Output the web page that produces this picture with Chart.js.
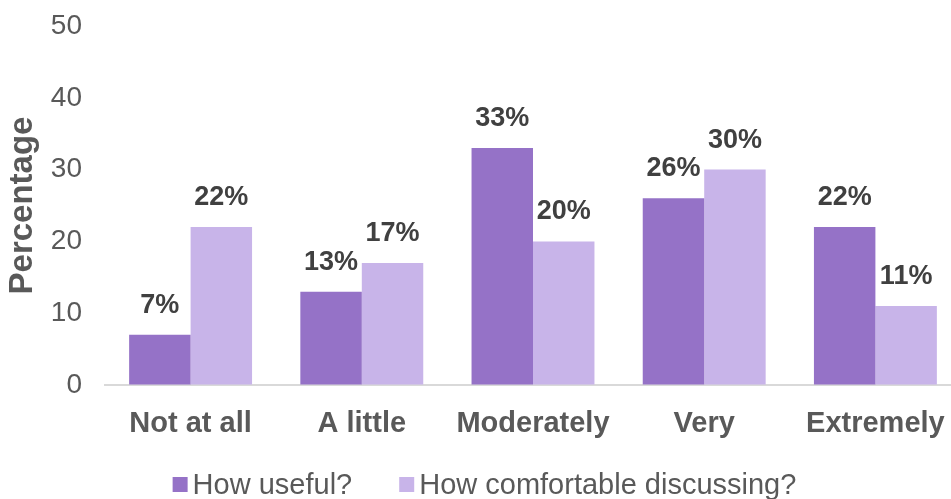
<!DOCTYPE html>
<html>
<head>
<meta charset="utf-8">
<script src="https://cdn.jsdelivr.net/npm/chart.js@4/dist/chart.umd.min.js"></script>
<style>
  html, body { margin: 0; padding: 0; background: #fff; }
  /* the canvas is a bit wider than the frame; the last category runs off the edge */
  #wrap { width: 951px; height: 499px; overflow: hidden; }
</style>
</head>
<body>
<div id="wrap"><canvas id="answersChart" width="961" height="499"></canvas></div>
<script>
// Answers per category, in percent
const categories = ['Not at all', 'A little', 'Moderately', 'Very', 'Extremely'];
const usefulValues = [7, 13, 33, 26, 22];
const comfortableValues = [22, 17, 20, 30, 11];
const yTicks = [0, 10, 20, 30, 40, 50];

const FONT = '"Liberation Sans", Arial, Helvetica, sans-serif';
const VISIBLE_WIDTH = 951;

// Writes "NN%" above each bar
const barLabels = {
    id: 'barLabels',
    afterDatasetsDraw(chart) {
        const ctx = chart.ctx;
        ctx.save();
        ctx.font = 'bold 27px ' + FONT;
        ctx.fillStyle = '#404040';
        ctx.textAlign = 'center';
        ctx.textBaseline = 'alphabetic';
        chart.data.datasets.forEach((ds, i) => {
            chart.getDatasetMeta(i).data.forEach((bar, j) => {
                ctx.fillText(ds.data[j] + '%', bar.x, bar.y - 22);
            });
        });
        ctx.restore();
    }
};

// Legend row at the bottom: small square, short gap, then the label
const bottomLegend = {
    id: 'bottomLegend',
    afterDraw(chart) {
        const ctx = chart.ctx;
        const box = 15, gap = 5, spacing = 47;
        ctx.save();
        ctx.font = '29px ' + FONT;
        const items = chart.data.datasets.map(ds => ({
            text: ds.label,
            color: ds.backgroundColor,
            w: ctx.measureText(ds.label).width
        }));
        const total = items.reduce((s, it) => s + box + gap + it.w, 0) + spacing * (items.length - 1);
        let x = (VISIBLE_WIDTH - total) / 2 + 9;
        const baseline = chart.height - 5;
        items.forEach(it => {
            ctx.fillStyle = it.color;
            ctx.fillRect(x, baseline - 17, box, box);
            ctx.fillStyle = '#595959';
            ctx.textBaseline = 'alphabetic';
            ctx.fillText(it.text, x + box + gap, baseline);
            x += box + gap + it.w + spacing;
        });
        ctx.restore();
    }
};

// invisible tick marks keep the labels away from the axes
const hiddenTicks = {
    display: true,
    drawOnChartArea: false,
    drawTicks: true,
    color: 'rgba(0,0,0,0)'
};

new Chart(document.getElementById('answersChart'), {
    type: 'bar',
    data: {
        labels: categories,
        datasets: [
            { label: 'How useful?', data: usefulValues, backgroundColor: '#9572C7' },
            { label: 'How comfortable discussing?', data: comfortableValues, backgroundColor: '#C8B4E9' }
        ]
    },
    options: {
        responsive: false,
        animation: false,
        layout: { padding: { top: 26, right: 0, bottom: 44, left: 0 } },
        datasets: {
            bar: { categoryPercentage: 0.718, barPercentage: 1.0 }
        },
        scales: {
            x: {
                grid: Object.assign({}, hiddenTicks, { tickLength: 22 }),
                border: { display: true, color: '#D9D9D9', width: 2 },
                ticks: {
                    padding: 0,
                    color: '#595959',
                    font: { family: FONT, size: 29, weight: 'bold' }
                },
                afterFit(scale) { scale.height = 70; }
            },
            y: {
                min: 0,
                max: 50,
                afterBuildTicks(scale) { scale.ticks = yTicks.map(v => ({ value: v })); },
                grid: Object.assign({}, hiddenTicks, { tickLength: 23 }),
                border: { display: false },
                ticks: {
                    padding: 0,
                    color: '#595959',
                    font: { family: FONT, size: 28 }
                },
                title: {
                    display: true,
                    text: 'Percentage',
                    color: '#595959',
                    font: { family: FONT, size: 33, weight: 'bold' },
                    padding: { top: 3, bottom: 4 }
                },
                afterFit(scale) { scale.width = 105; }
            }
        },
        plugins: {
            legend: { display: false },
            tooltip: { enabled: false }
        }
    },
    plugins: [barLabels, bottomLegend]
});
</script>
</body>
</html>
